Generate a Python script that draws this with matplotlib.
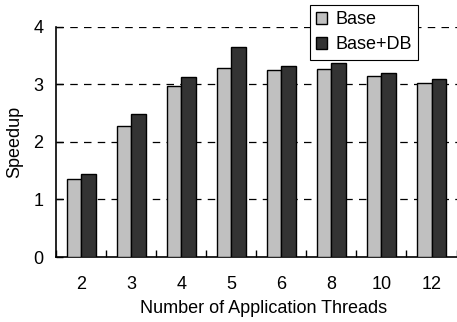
import matplotlib
matplotlib.use("Agg")
import matplotlib.pyplot as plt
import numpy as np

categories = ["2", "3", "4", "5", "6", "8", "10", "12"]
base = [1.35, 2.28, 2.97, 3.29, 3.25, 3.27, 3.15, 3.03]
base_db = [1.45, 2.48, 3.13, 3.64, 3.32, 3.37, 3.20, 3.09]
series_names = ["Base", "Base+DB"]
yticks = [0, 1, 2, 3, 4]

plt.rcParams['font.family'] = ['Liberation Sans', 'DejaVu Sans']
FS = 13

fig = plt.figure(figsize=(4.57, 3.22), dpi=100)
ax = fig.add_axes([56/457, 1 - 257/322, 1 - 56/457 - 0.001, (257 - 26.7)/322])

x = np.arange(len(categories))
w = 0.29
ax.bar(x - w/2, base, w, color="#c0c0c0", edgecolor="black", linewidth=1.0, label=series_names[0], zorder=3)
ax.bar(x + w/2, base_db, w, color="#333333", edgecolor="black", linewidth=1.0, label=series_names[1], zorder=3)

ax.set_xlim(-0.5, len(categories) - 0.5)
ax.set_ylim(0, 4)
ax.set_yticks(yticks)
ax.set_yticklabels([str(t) for t in yticks], fontsize=FS)
for yv in yticks[1:]:
    ax.axhline(yv, color="black", linestyle=(0, (6, 5)), linewidth=0.9, zorder=1)

ax.set_xticks(x)
ax.set_xticklabels(categories, fontsize=FS)
ax.tick_params(axis='x', length=0, pad=14)
ax.set_xticks(np.arange(len(categories) + 1) - 0.5, minor=True)
ax.tick_params(axis='x', which='minor', direction='in', length=5, width=1, color="black")
ax.tick_params(axis='y', direction='in', length=5, width=1, pad=9)

for s in ["top", "right"]:
    ax.spines[s].set_visible(False)
ax.spines["left"].set_linewidth(1.2)
ax.spines["bottom"].set_linewidth(1.2)

ax.set_ylabel("Speedup", fontsize=FS, labelpad=7)
ax.set_xlabel("Number of Application Threads", fontsize=FS, labelpad=5)
ax.xaxis.label.set_x(0.518)

leg = fig.legend(loc="upper left", bbox_to_anchor=(310/457, 1 - 5/322), fontsize=FS,
                 frameon=True, fancybox=False, edgecolor="black", framealpha=1,
                 handlelength=0.6, handleheight=0.6, handletextpad=0.45,
                 borderpad=0.35, labelspacing=0.45, borderaxespad=0)
leg.get_frame().set_linewidth(0.8)

fig.savefig("out.png", dpi=100)
